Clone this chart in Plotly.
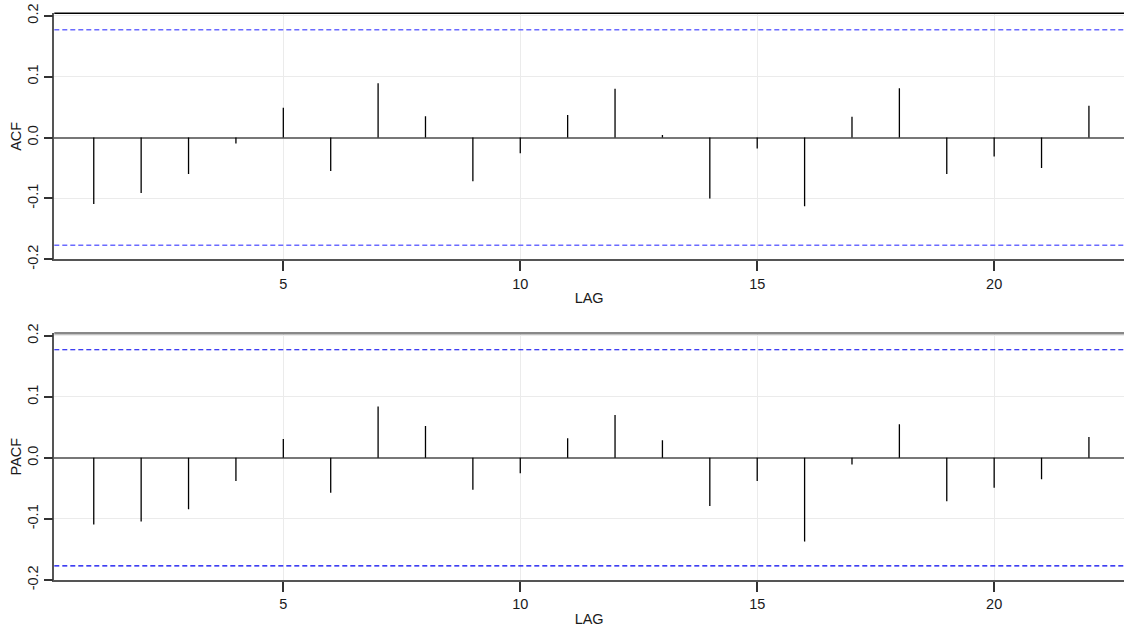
import plotly.graph_objects as go
from plotly.subplots import make_subplots

lags = list(range(1, 23))
acf = [-0.109, -0.091, -0.060, -0.010, 0.049, -0.055, 0.089, 0.035, -0.072, -0.026, 0.037,
       0.080, 0.004, -0.100, -0.018, -0.113, 0.034, 0.081, -0.060, -0.031, -0.050, 0.052]
pacf = [-0.109, -0.104, -0.084, -0.038, 0.031, -0.057, 0.084, 0.052, -0.052, -0.025, 0.032,
        0.070, 0.029, -0.079, -0.038, -0.137, -0.011, 0.055, -0.071, -0.049, -0.035, 0.034]
conf_limit = 0.177
y_ticks = [-0.2, -0.1, 0.0, 0.1, 0.2]
y_ticktext = ["-0.2", "-0.1", "0.0", "0.1", "0.2"]
x_ticks = [5, 10, 15, 20]

FONT = "Liberation Sans, Arial, sans-serif"

fig = make_subplots(rows=2, cols=1)


def spikes(xs, ys):
    px, py = [], []
    for x, y in zip(xs, ys):
        px += [x, x, None]
        py += [0, y, None]
    return px, py


for row, (vals, name, dcol, dwid) in enumerate(
        [(acf, "ACF", "#6b6bff", 1.5), (pacf, "PACF", "#0000ee", 1.2)], start=1):
    sx, sy = spikes(lags, vals)
    fig.add_trace(go.Scatter(x=sx, y=sy, mode="lines",
                             line=dict(color="black", width=1.3),
                             showlegend=False, hoverinfo="skip"), row=row, col=1)
    for lim in (conf_limit, -conf_limit):
        fig.add_hline(y=lim, line=dict(color=dcol, width=dwid, dash="5px,3px"),
                      row=row, col=1)

xaxis_common = dict(range=[0.167, 22.74], domain=[0.0483, 1.0], automargin=False,
                    tickvals=x_ticks, ticks="outside", ticklen=10, tickwidth=1.5,
                    tickcolor="#333", showline=True, linecolor="#555", linewidth=2,
                    showgrid=True, gridcolor="#ebebeb", gridwidth=1.2, zeroline=False,
                    tickfont=dict(family=FONT, size=14.5, color="#1a1a1a"),
                    title=dict(text="LAG", font=dict(family=FONT, size=14.5, color="#1a1a1a"),
                               standoff=2))
yaxis_common = dict(range=[-0.2, 0.204], tickvals=y_ticks, ticktext=y_ticktext,
                    automargin=False,
                    tickangle=-90, ticks="outside", ticklen=9, tickwidth=1.5,
                    tickcolor="#333", showline=True, linecolor="#555", linewidth=1.5,
                    showgrid=True, gridcolor="#ebebeb", gridwidth=1.2,
                    zeroline=True, zerolinecolor="#777", zerolinewidth=2,
                    tickfont=dict(family=FONT, size=14.5, color="#1a1a1a"))

fig.update_xaxes(**xaxis_common)
fig.update_yaxes(**yaxis_common)
fig.update_yaxes(domain=[0.5871, 0.9788], row=1, col=1,
                 title=dict(text="ACF", font=dict(family=FONT, size=14.5, color="#1a1a1a"),
                            standoff=0))
fig.update_yaxes(domain=[0.0764, 0.4693], row=2, col=1,
                 title=dict(text="PACF", font=dict(family=FONT, size=14.5, color="#1a1a1a"),
                            standoff=0))

# top borders of the panels
fig.add_shape(type="line", xref="x domain", yref="y domain", x0=0, x1=1, y0=1, y1=1,
              line=dict(color="black", width=1.5))
fig.add_shape(type="line", xref="x2 domain", yref="y2 domain", x0=0, x1=1, y0=1, y1=1,
              line=dict(color="#888", width=2.5))

fig.update_layout(width=1124, height=628, margin=dict(l=0, r=0, t=0, b=0),
                  plot_bgcolor="white", paper_bgcolor="white",
                  font=dict(family=FONT, size=14.5, color="#1a1a1a"))

fig.write_html("out.html", config={"displayModeBar": False},
               post_script="document.body.style.margin='0px';"
                           "document.body.style.overflow='hidden';")
